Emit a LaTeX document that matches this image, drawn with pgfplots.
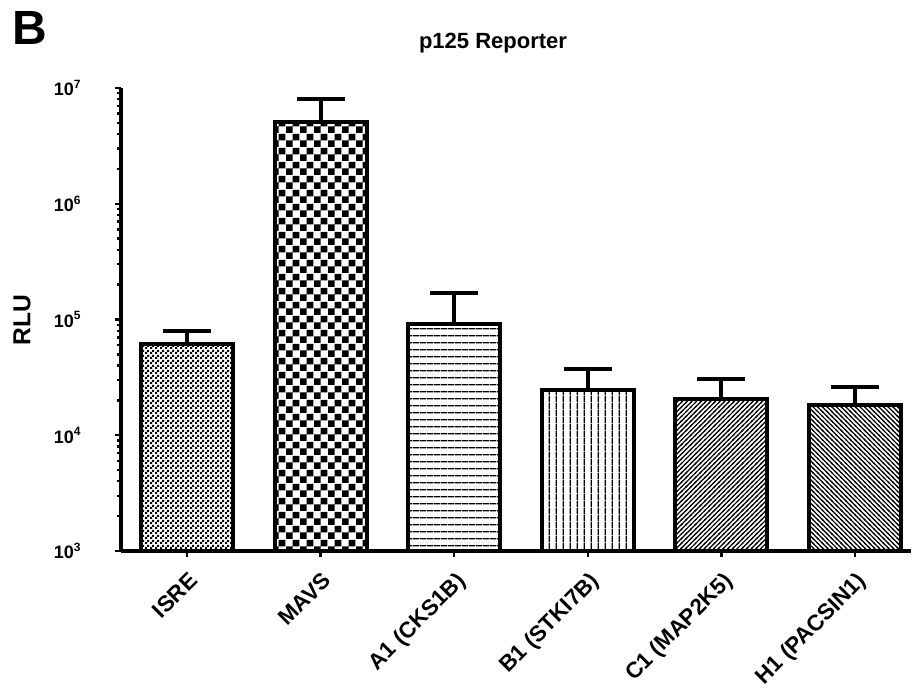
\documentclass[border=0pt]{standalone}
\usepackage{fontspec}
\setmainfont{Liberation Sans}
\usepackage{pgfplots}
\pgfplotsset{compat=1.18}
\usetikzlibrary{patterns.meta}

\pgfdeclarepattern{name=finechecker, type=uncolored,
  bottom left={\pgfqpoint{0pt}{0pt}}, top right={\pgfqpoint{2.5pt}{2.5pt}},
  tile size={\pgfqpoint{2.5pt}{2.5pt}},
  code={\pgfpathrectangle{\pgfqpoint{0pt}{0pt}}{\pgfqpoint{1.25pt}{1.25pt}}
        \pgfpathrectangle{\pgfqpoint{1.25pt}{1.25pt}}{\pgfqpoint{1.25pt}{1.25pt}}
        \pgfusepath{fill}}}
\pgfdeclarepattern{name=bigchecker, type=uncolored,
  bottom left={\pgfqpoint{0pt}{0pt}}, top right={\pgfqpoint{6.8pt}{6.8pt}},
  tile size={\pgfqpoint{6.8pt}{6.8pt}},
  code={\pgfpathrectangle{\pgfqpoint{0pt}{0pt}}{\pgfqpoint{3.4pt}{3.4pt}}
        \pgfpathrectangle{\pgfqpoint{3.4pt}{3.4pt}}{\pgfqpoint{3.4pt}{3.4pt}}
        \pgfusepath{fill}}}
\pgfdeclarepattern{name=hlinesA, type=uncolored,
  bottom left={\pgfqpoint{0pt}{0pt}}, top right={\pgfqpoint{3.33pt}{3.33pt}},
  tile size={\pgfqpoint{3.33pt}{3.33pt}},
  code={\pgfsetlinewidth{0.7pt}
        \pgfpathmoveto{\pgfqpoint{0pt}{1.665pt}}\pgfpathlineto{\pgfqpoint{3.33pt}{1.665pt}}
        \pgfusepath{stroke}}}
\pgfdeclarepattern{name=vlinesA, type=uncolored,
  bottom left={\pgfqpoint{0pt}{0pt}}, top right={\pgfqpoint{3.33pt}{3.33pt}},
  tile size={\pgfqpoint{3.33pt}{3.33pt}},
  code={\pgfsetlinewidth{0.7pt}
        \pgfpathmoveto{\pgfqpoint{1.665pt}{0pt}}\pgfpathlineto{\pgfqpoint{1.665pt}{3.33pt}}
        \pgfusepath{stroke}}}
\pgfdeclarepattern{name=nelinesA, type=uncolored,
  bottom left={\pgfqpoint{-0.5pt}{-0.5pt}}, top right={\pgfqpoint{2.85pt}{2.85pt}},
  tile size={\pgfqpoint{2.35pt}{2.35pt}},
  code={\pgfsetlinewidth{0.6pt}
        \pgfpathmoveto{\pgfqpoint{-0.5pt}{-0.5pt}}\pgfpathlineto{\pgfqpoint{2.85pt}{2.85pt}}
        \pgfusepath{stroke}}}
\pgfdeclarepattern{name=nwlinesA, type=uncolored,
  bottom left={\pgfqpoint{-0.5pt}{-0.5pt}}, top right={\pgfqpoint{2.85pt}{2.85pt}},
  tile size={\pgfqpoint{2.35pt}{2.35pt}},
  code={\pgfsetlinewidth{0.6pt}
        \pgfpathmoveto{\pgfqpoint{-0.5pt}{2.85pt}}\pgfpathlineto{\pgfqpoint{2.85pt}{-0.5pt}}
        \pgfusepath{stroke}}}

\begin{document}
\begin{tikzpicture}
\path[use as bounding box] (0,0) rectangle (456pt,344.5pt);
\begin{axis}[
  at={(60.5pt,69pt)}, anchor=south west,
  scale only axis, width=395pt, height=231.5pt,
  ymode=log, ymin=1e3, ymax=1e7,
  xmin=-0.494, xmax=5.42,
  axis x line*=bottom, axis y line*=left,
  axis line style={line width=1.6pt, -},
  xtick={0,1,2,3,4,5},
  xticklabels={ISRE, MAVS, A1 (CKS1B), B1 (STKI7B), C1 (MAP2K5), H1 (PACSIN1)},
  xticklabel style={rotate=45, anchor=north east, inner sep=0pt, yshift=-5pt, xshift=-4.5pt,
    font=\bfseries\fontsize{11.2}{13}\selectfont},
  ytick={1e3,1e4,1e5,1e6,1e7},
  yticklabels={\textbf{10\textsuperscript{3}},\textbf{10\textsuperscript{4}},\textbf{10\textsuperscript{5}},\textbf{10\textsuperscript{6}},\textbf{10\textsuperscript{7}}},
  yticklabel style={anchor=east, inner sep=0pt, xshift=-16.5pt,
    font=\bfseries\fontsize{9}{10}\selectfont},
  minor ytick={2000,3000,4000,5000,6000,7000,8000,9000,
    20000,30000,40000,50000,60000,70000,80000,90000,
    200000,300000,400000,500000,600000,700000,800000,900000,
    2000000,3000000,4000000,5000000,6000000,7000000,8000000,9000000},
  tick align=outside, major tick length=3pt, minor tick length=2pt,
  tick style={black, line width=1.2pt},
  every axis plot/.append style={ybar, bar width=46pt, bar shift=0pt,
    draw=black, line width=2pt, pattern color=black,
    error bars/y dir=plus, error bars/y explicit,
    error bars/error bar style={line width=2pt, black},
    error bars/error mark options={rotate=90, mark size=12pt, line width=2pt, black}},
]
\addplot[pattern=finechecker] coordinates {(0,61400) +- (0,18600)};
\addplot[pattern=bigchecker] coordinates {(1,5120000) +- (0,2920000)};
\addplot[pattern=hlinesA] coordinates {(2,91000) +- (0,77000)};
\addplot[pattern=vlinesA] coordinates {(3,24600) +- (0,12700)};
\addplot[pattern=nelinesA] coordinates {(4,20500) +- (0,10100)};
\addplot[pattern=nwlinesA] coordinates {(5,18400) +- (0,7900)};
\end{axis}
\node[font=\bfseries\fontsize{24}{28}\selectfont] at (15pt,330.5pt) {B};
\node[font=\bfseries\fontsize{11}{13}\selectfont] at (246.5pt,323pt) {p125 Reporter};
\node[rotate=90, font=\bfseries\fontsize{12.3}{14}\selectfont] at (11pt,184.5pt) {RLU};
\end{tikzpicture}
\end{document}
